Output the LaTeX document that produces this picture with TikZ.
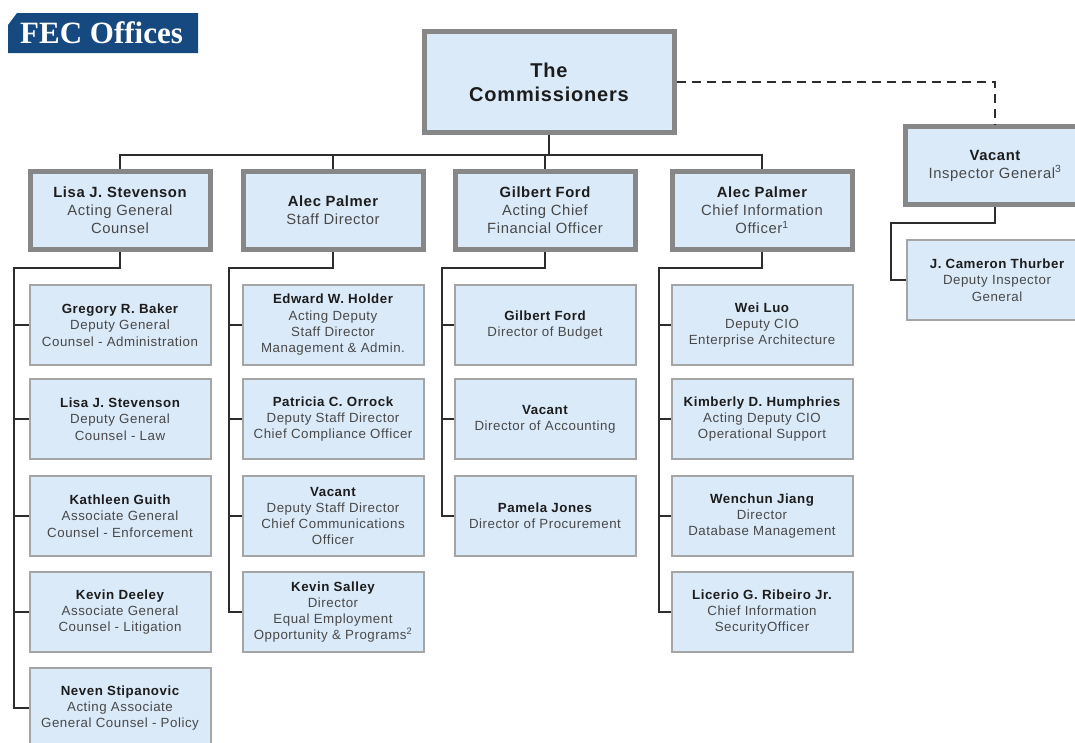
\documentclass[tikz,border=0pt]{standalone}
\usepackage{fontspec}
\setmainfont{Liberation Sans}[LetterSpace=4]
\newfontfamily\titlefont{Liberation Serif}
\usepackage{xcolor}
\usepackage{tikz}
\usetikzlibrary{positioning,calc}

\definecolor{boxblue}{RGB}{219,234,249}
\definecolor{headgrey}{RGB}{135,135,135}
\definecolor{subgrey}{RGB}{165,165,165}
\definecolor{fecblue}{RGB}{22,73,128}
\definecolor{namecol}{RGB}{28,28,28}
\definecolor{rolecol}{RGB}{72,72,72}
\definecolor{linecol}{RGB}{45,45,45}

\newcommand{\who}[1]{\textbf{\color{namecol}#1}}

\begin{document}
\begin{tikzpicture}[x=1pt, y=-1pt,
    headbox/.style={rectangle, draw=headgrey, line width=5pt, fill=boxblue, minimum width=180pt, minimum height=78pt, align=center, text=rolecol, inner sep=2pt, font=\fontsize{14.8}{18}\selectfont},
    subbox/.style={rectangle, draw=subgrey, line width=2pt, fill=boxblue, minimum width=181pt, minimum height=80pt, align=center, text=rolecol, inner sep=1pt, font=\fontsize{13.3}{16.3}\selectfont},
    link/.style={draw=linecol, line width=2pt}
]
    \useasboundingbox (0,0) rectangle (1075,742);

    \fill[fecblue] (8,25) -- (17,13) -- (198,13) -- (198,53) -- (8,53) -- cycle;
    \node[text=white, font=\titlefont\bfseries\fontsize{31}{34}\selectfont, anchor=base west, inner sep=0pt] (title) at (20,43) {FEC Offices};

    \node[headbox, minimum width=250pt, minimum height=101pt, text=namecol, font=\bfseries\fontsize{20}{24}\selectfont] (comm) at (549,82) {The\\Commissioners};

    \node[headbox] (lgc) at (120,210.5) {\who{Lisa J. Stevenson}\\Acting General\\Counsel};
    \node[headbox] (sd) at (333,210.5) {\who{Alec Palmer}\\Staff Director};
    \node[headbox] (cfo) at (545,210.5) {\who{Gilbert Ford}\\Acting Chief\\Financial Officer};
    \node[headbox] (cio) at (762,210.5) {\who{Alec Palmer}\\Chief Information\\Officer\textsuperscript{1}};
    \node[headbox] (ig) at (995,165.5) {\who{Vacant}\\Inspector General\textsuperscript{3}};

    \node[subbox] (lgc1) at (120,325) {\who{Gregory R. Baker}\\Deputy General\\Counsel - Administration};
    \node[subbox] (lgc2) at (120,419) {\who{Lisa J. Stevenson}\\Deputy General\\Counsel - Law};
    \node[subbox] (lgc3) at (120,516) {\who{Kathleen Guith}\\Associate General\\Counsel - Enforcement};
    \node[subbox] (lgc4) at (120,612) {\who{Kevin Deeley}\\Associate General\\Counsel - Litigation};
    \node[subbox] (lgc5) at (120,708) {\who{Neven Stipanovic}\\Acting Associate\\General Counsel - Policy};

    \node[subbox] (sd1) at (333,325) {\who{Edward W. Holder}\\Acting Deputy\\Staff Director\\Management \& Admin.};
    \node[subbox] (sd2) at (333,419) {\who{Patricia C. Orrock}\\Deputy Staff Director\\Chief Compliance Officer};
    \node[subbox] (sd3) at (333,516) {\who{Vacant}\\Deputy Staff Director\\Chief Communications\\Officer};
    \node[subbox] (sd4) at (333,612) {\who{Kevin Salley}\\Director\\Equal Employment\\Opportunity \& Programs\textsuperscript{2}};

    \node[subbox] (cfo1) at (545,325) {\who{Gilbert Ford}\\Director of Budget};
    \node[subbox] (cfo2) at (545,419) {\who{Vacant}\\Director of Accounting};
    \node[subbox] (cfo3) at (545,516) {\who{Pamela Jones}\\Director of Procurement};

    \node[subbox] (cio1) at (762,325) {\who{Wei Luo}\\Deputy CIO\\Enterprise Architecture};
    \node[subbox] (cio2) at (762,419) {\who{Kimberly D. Humphries}\\Acting Deputy CIO\\Operational Support};
    \node[subbox] (cio3) at (762,516) {\who{Wenchun Jiang}\\Director\\Database Management};
    \node[subbox] (cio4) at (762,612) {\who{Licerio G. Ribeiro Jr.}\\Chief Information\\SecurityOfficer};

    \node[subbox] (igdep) at (997,280) {\who{J. Cameron Thurber}\\Deputy Inspector\\General};

    \coordinate (bus) at (549,155);
    \coordinate (lgcbus) at (14,268);
    \coordinate (sdbus) at (229,268);
    \coordinate (cfobus) at (442,268);
    \coordinate (ciobus) at (659,268);
    \coordinate (igbus) at (891,223);

    \foreach \h in {lgc,sd,cfo,cio}
        \draw[link] (comm.south) |- (bus) -| (\h.north);
    \draw[link, dash pattern=on 9pt off 6pt] (comm.east) -| (ig.north);

    \draw[link] (lgc.south) |- (lgcbus) |- (lgc5.west);
    \foreach \k in {1,...,4}
        \draw[link] (lgc\k.west) -- (lgc\k.west -| lgcbus);
    \draw[link] (sd.south) |- (sdbus) |- (sd4.west);
    \foreach \k in {1,...,3}
        \draw[link] (sd\k.west) -- (sd\k.west -| sdbus);
    \draw[link] (cfo.south) |- (cfobus) |- (cfo3.west);
    \foreach \k in {1,2}
        \draw[link] (cfo\k.west) -- (cfo\k.west -| cfobus);
    \draw[link] (cio.south) |- (ciobus) |- (cio4.west);
    \foreach \k in {1,...,3}
        \draw[link] (cio\k.west) -- (cio\k.west -| ciobus);
    \draw[link] (ig.south) |- (igbus) |- (igdep.west);
\end{tikzpicture}
\end{document}
